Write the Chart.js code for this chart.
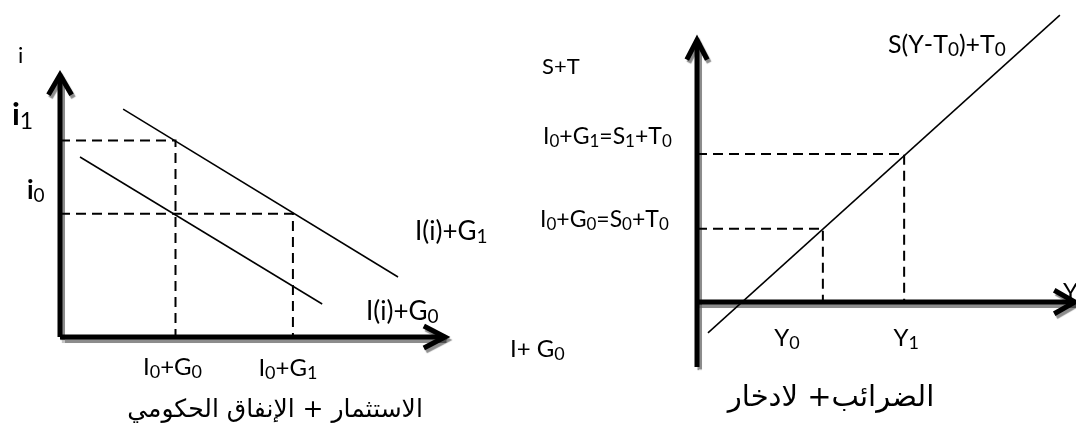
<!DOCTYPE html>
<html lang="ar">
  <head>
    <meta charset="utf-8" />
    <title>Investment and saving diagram</title>
    <style>
      * {
        margin: 0;
        padding: 0;
      }
      body {
        background: #fff;
        width: 1076px;
        height: 437px;
        overflow: hidden;
      }
      .panel {
        position: absolute;
        left: 0;
        top: 0;
      }
    </style>
  </head>
  <body>
    <canvas id="investChart" class="panel" width="1076" height="437"></canvas>
    <canvas id="savingChart" class="panel" width="1076" height="437"></canvas>
    <script src="https://cdn.jsdelivr.net/npm/chart.js"></script>
    <script>
      // left panel: interest rate i against I+G
      const investG1 = [{ x: 1.64, y: 8.7 }, { x: 8.78, y: 2.29 }];
      const investG0 = [{ x: 0.52, y: 6.87 }, { x: 6.81, y: 1.26 }];
      const rateLevels = [4.7, 7.5]; // i0, i1
      const investLevels = [3.0, 6.05]; // I0+G0, I0+G1

      // right panel: S+T against Y
      const savingLine = [{ x: 0.29, y: -1.18 }, { x: 9.6, y: 10.95 }];
      const incomeLevels = [3.33, 5.48]; // Y0, Y1
      const savingLevels = [2.8, 5.65]; // S0+T0, S1+T0

      const axisEnd = 10;
      const W = 1076, H = 437;

      // scale range so that value 0 sits at a given pixel
      function xRange(origin, ppu) {
        return { min: -origin / ppu, max: (W - origin) / ppu };
      }
      function yRange(origin, ppu) {
        return { min: -(H - origin) / ppu, max: origin / ppu };
      }

      // draws text with "_x" as subscript
      function richText(ctx, str, x, y, size, align, weight) {
        const parts = [];
        for (let k = 0; k < str.length; k++) {
          if (str[k] === '_' && k + 1 < str.length) {
            parts.push({ t: str[k + 1], sub: true });
            k++;
          } else {
            parts.push({ t: str[k], sub: false });
          }
        }
        const subSize = Math.round(size * 0.74);
        let total = 0;
        parts.forEach((p) => {
          ctx.font = p.sub ? `normal ${subSize}px Lato` : `${weight || 'normal'} ${size}px Lato`;
          p.w = ctx.measureText(p.t).width;
          total += p.w;
        });
        let cx = align === 'center' ? x - total / 2 : x;
        ctx.textAlign = 'left';
        ctx.textBaseline = 'middle';
        ctx.fillStyle = '#000';
        parts.forEach((p) => {
          ctx.font = p.sub ? `normal ${subSize}px Lato` : `${weight || 'normal'} ${size}px Lato`;
          ctx.fillText(p.t, cx, p.sub ? y + size * 0.2 : y);
          cx += p.w;
        });
      }

      const axisShadow = {
        id: 'axisShadow',
        beforeDatasetDraw(chart, args) {
          if (!chart.data.datasets[args.index].shadow) return;
          const ctx = chart.ctx;
          ctx.save();
          ctx.shadowColor = 'rgba(0,0,0,0.45)';
          ctx.shadowOffsetX = 2;
          ctx.shadowOffsetY = 3;
          ctx.shadowBlur = 1;
        },
        afterDatasetDraw(chart, args) {
          if (chart.data.datasets[args.index].shadow) chart.ctx.restore();
        },
      };

      // labels kept in a closure, not in the options proxy
      function textPlugin(labels) {
        return {
          id: 'diagramText',
          afterDraw(chart) {
            const ctx = chart.ctx;
            const xs = chart.scales.x;
            labels.forEach((l) => {
              const x = typeof l.at === 'number' ? xs.getPixelForValue(l.at) + (l.dx || 0) : l.x;
              if (l.arabic) {
                ctx.save();
                ctx.font = `${l.size}px "DejaVu Sans"`;
                ctx.textAlign = 'center';
                ctx.textBaseline = 'middle';
                ctx.fillStyle = '#000';
                ctx.fillText(l.text, x, l.y);
                ctx.restore();
              } else {
                richText(ctx, l.text, x, l.y, l.size || 24, l.align || 'left', l.weight);
              }
            });
          },
        };
      }

      function solid(data, width) {
        return { data, showLine: true, borderColor: '#000', borderWidth: width || 1.5, pointRadius: 0 };
      }
      function dashed(data) {
        return { data, showLine: true, borderColor: '#000', borderWidth: 2, borderDash: [10, 6], pointRadius: 0 };
      }
      function axis(data) {
        return {
          data, showLine: true, borderColor: '#000', borderWidth: 5, pointRadius: 0,
          borderCapStyle: 'butt', borderJoinStyle: 'miter', shadow: true,
        };
      }

      function baseOptions(xr, yr) {
        return {
          responsive: false,
          animation: false,
          events: [],
          layout: { padding: 0 },
          plugins: { legend: { display: false }, tooltip: { enabled: false } },
          scales: {
            x: { type: 'linear', display: false, min: xr.min, max: xr.max },
            y: { type: 'linear', display: false, min: yr.min, max: yr.max },
          },
        };
      }

      // left chart
      const [i0, i1] = rateLevels;
      const [x0, x1] = investLevels;
      new Chart(document.getElementById('investChart'), {
        type: 'scatter',
        data: {
          datasets: [
            axis([{ x: 0, y: 0 }, { x: 0, y: axisEnd }]),
            axis([{ x: -0.3, y: axisEnd - 0.75 }, { x: 0, y: axisEnd }, { x: 0.3, y: axisEnd - 0.75 }]),
            axis([{ x: 0, y: 0 }, { x: axisEnd, y: 0 }]),
            axis([{ x: axisEnd - 0.55, y: 0.42 }, { x: axisEnd, y: 0 }, { x: axisEnd - 0.55, y: -0.42 }]),
            solid(investG1),
            solid(investG0),
            dashed([{ x: 0, y: i1 }, { x: x0, y: i1 }, { x: x0, y: 0 }]),
            dashed([{ x: 0, y: i0 }, { x: x1, y: i0 }, { x: x1, y: 0 }]),
          ],
        },
        options: baseOptions(xRange(60, 38.5), yRange(337, 26.2)),
        plugins: [
          axisShadow,
          textPlugin([
            { text: 'i', x: 18, y: 56, size: 22 },
            { text: 'i_1', x: 12, y: 115, size: 31, weight: 'bold' },
            { text: 'i_0', x: 27, y: 191, size: 26, weight: 'bold' },
            { text: 'I(i)+G_1', x: 415, y: 232, size: 26 },
            { text: 'I(i)+G_0', x: 366, y: 312, size: 26 },
            { text: 'I+ G_0', x: 510, y: 349, size: 24 },
            { text: 'I_0+G_0', at: x0, dx: -3, y: 367, size: 24, align: 'center' },
            { text: 'I_0+G_1', at: x1, dx: -5, y: 368, size: 24, align: 'center' },
            { text: 'الاستثمار + الإنفاق الحكومي', x: 275, y: 410, size: 25, arabic: true },
          ]),
        ],
      });

      // right chart
      const [s0, s1] = savingLevels;
      const [y0, y1] = incomeLevels;
      new Chart(document.getElementById('savingChart'), {
        type: 'scatter',
        data: {
          datasets: [
            axis([{ x: 0, y: -2.48 }, { x: 0, y: axisEnd }]),
            axis([{ x: -0.27, y: axisEnd - 0.75 }, { x: 0, y: axisEnd }, { x: 0.27, y: axisEnd - 0.75 }]),
            axis([{ x: 0, y: 0 }, { x: axisEnd, y: 0 }]),
            axis([{ x: axisEnd - 0.55, y: 0.45 }, { x: axisEnd, y: 0 }, { x: axisEnd - 0.55, y: -0.45 }]),
            solid(savingLine),
            dashed([{ x: 0, y: s1 }, { x: y1, y: s1 }, { x: y1, y: 0 }]),
            dashed([{ x: 0, y: s0 }, { x: y0, y: s0 }, { x: y0, y: 0 }]),
          ],
        },
        options: baseOptions(xRange(697, 37.8), yRange(302, 26.2)),
        plugins: [
          axisShadow,
          textPlugin([
            { text: 'S+T', x: 542, y: 67, size: 22 },
            { text: 'I_0+G_1=S_1+T_0', x: 543, y: 137, size: 23 },
            { text: 'I_0+G_0=S_0+T_0', x: 540, y: 220, size: 23 },
            { text: 'S(Y-T_0)+T_0', x: 888, y: 45, size: 25 },
            { text: 'Y_0', at: y0, dx: -36, y: 338, size: 24, align: 'center' },
            { text: 'Y_1', at: y1, dx: 2, y: 338, size: 24, align: 'center' },
            { text: 'Y', x: 1063, y: 292, size: 24 },
            { text: 'الضرائب+ لادخار', x: 831, y: 398, size: 29, arabic: true },
          ]),
        ],
      });
    </script>
  </body>
</html>
